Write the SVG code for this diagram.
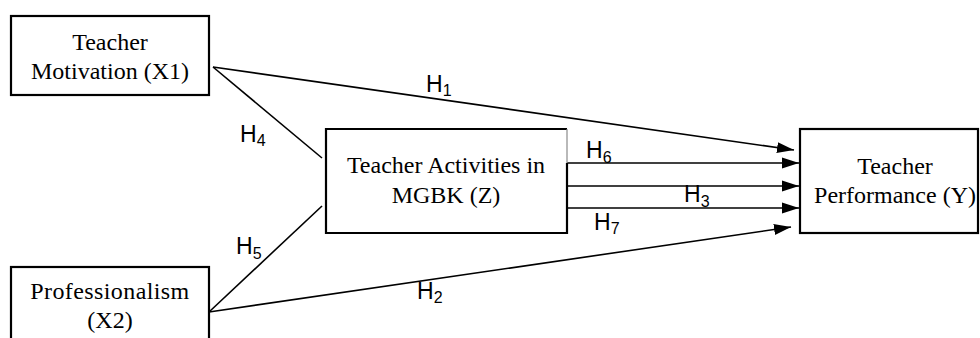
<svg xmlns="http://www.w3.org/2000/svg" width="980" height="338" viewBox="0 0 980 338">
  <style>
    .box { fill: #ffffff; stroke: #000000; stroke-width: 2.2; }
    .lbl { font-family: "Liberation Serif", "Times New Roman", serif; font-size: 24px; fill: #000000; text-anchor: middle; }
    .h { font-family: "Liberation Sans", Arial, sans-serif; font-size: 23px; fill: #000000; }
    .sub { font-size: 16px; }
    .con { stroke: #000000; stroke-width: 1.6; fill: none; }
  </style>
  <defs>
    <marker id="arr" markerUnits="userSpaceOnUse" markerWidth="18" markerHeight="12" refX="17" refY="6" orient="auto">
      <path d="M0,0.5 L17,6 L0,11.5 Z" fill="#000000"/>
    </marker>
  </defs>
  <rect width="980" height="338" fill="#ffffff"/>

  <g id="connectors">
    <line class="con" x1="213" y1="67" x2="794" y2="150" marker-end="url(#arr)"/>
    <line class="con" x1="213" y1="67" x2="322" y2="158"/>
    <line class="con" x1="209" y1="312" x2="322" y2="206"/>
    <line class="con" x1="209" y1="312" x2="791" y2="227" marker-end="url(#arr)"/>
    <line class="con" x1="565" y1="163" x2="799" y2="163" marker-end="url(#arr)"/>
    <line class="con" x1="568" y1="186" x2="799" y2="186" marker-end="url(#arr)"/>
    <line class="con" x1="565" y1="208" x2="799" y2="208" marker-end="url(#arr)"/>
    <text class="h" x="426" y="92">H<tspan class="sub" dy="4">1</tspan></text>
    <text class="h" x="240" y="142">H<tspan class="sub" dy="4">4</tspan></text>
    <text class="h" x="236" y="254">H<tspan class="sub" dy="5">5</tspan></text>
    <text class="h" x="417" y="299">H<tspan class="sub" dy="4">2</tspan></text>
    <text class="h" x="586" y="158">H<tspan class="sub" dy="5">6</tspan></text>
    <text class="h" x="684" y="202">H<tspan class="sub" dy="5">3</tspan></text>
    <text class="h" x="594" y="230">H<tspan class="sub" dy="4">7</tspan></text>
  </g>

  <g id="node-x1">
    <rect class="box" x="11" y="16" width="198" height="79"/>
    <text class="lbl" x="110" y="50">Teacher</text>
    <text class="lbl" x="110" y="79">Motivation (X1)</text>
  </g>

  <g id="node-z">
    <path d="M567,163 V233 H326 V129 H567" fill="#ffffff" stroke="#000000" stroke-width="2.2"/>
    <line x1="567" y1="129" x2="567" y2="163" stroke="#8a8a8a" stroke-width="1.2"/>
    <text class="lbl" x="446" y="173">Teacher Activities in</text>
    <text class="lbl" x="446" y="203">MGBK (Z)</text>
  </g>

  <g id="node-y">
    <rect class="box" x="800" y="129" width="178" height="104"/>
    <text class="lbl" x="895" y="174">Teacher</text>
    <text class="lbl" x="895" y="203">Performance (Y)</text>
  </g>

  <g id="node-x2">
    <rect class="box" x="11" y="267" width="198" height="80"/>
    <text class="lbl" x="110" y="299" letter-spacing="0.4">Professionalism</text>
    <text class="lbl" x="110" y="328">(X2)</text>
  </g>
</svg>
